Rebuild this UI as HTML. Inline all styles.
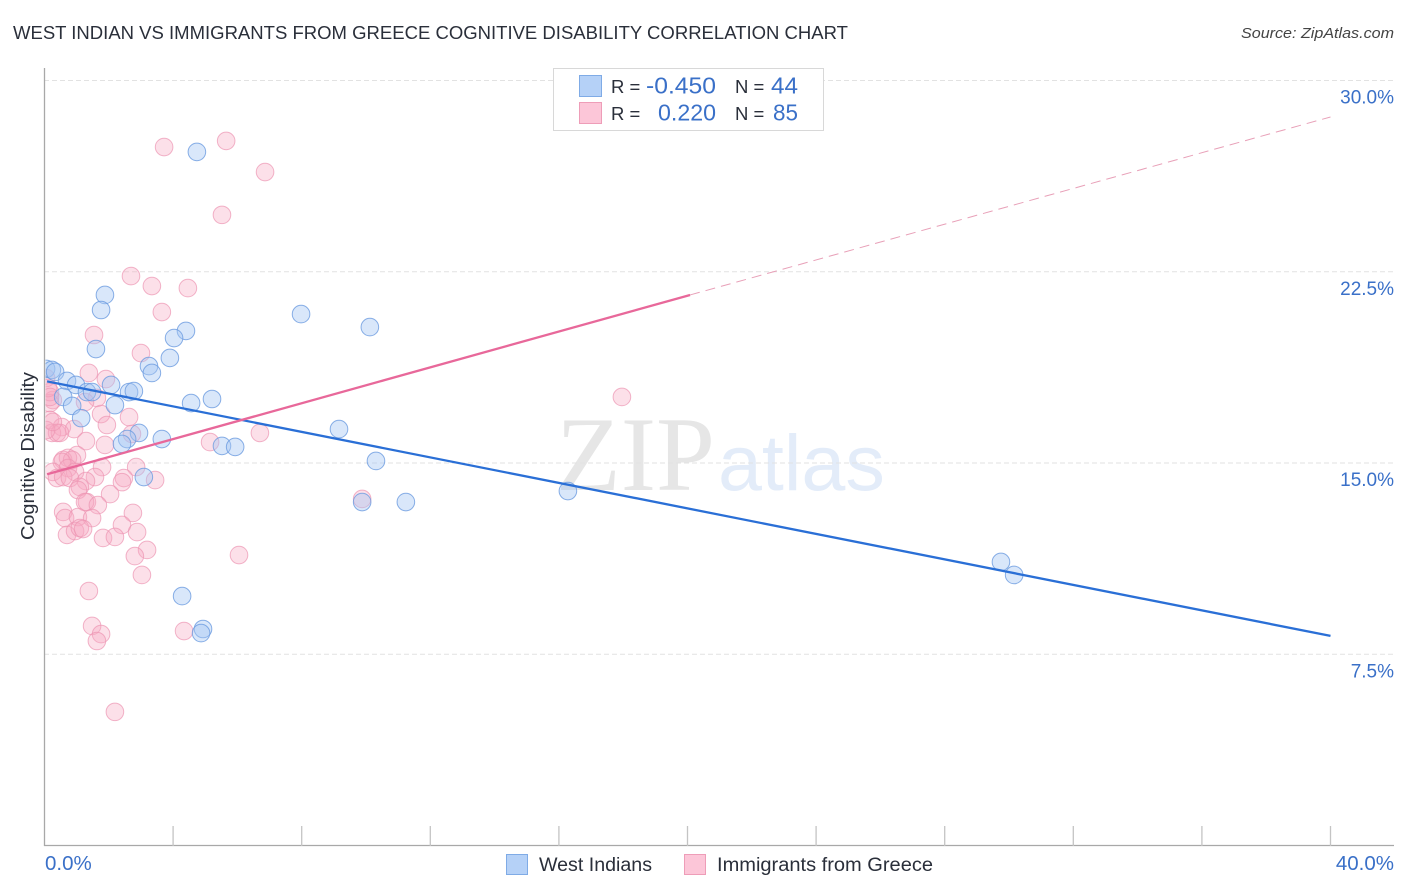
<!DOCTYPE html>
<html lang="en">
<head>
<meta charset="utf-8">
<title>West Indian vs Immigrants from Greece Cognitive Disability Correlation Chart</title>
<style>
html,body{margin:0;padding:0;background:#fff;width:1406px;height:892px;overflow:hidden}
svg{display:block;font-family:"Liberation Sans",sans-serif}
</style>
</head>
<body>
<svg id="chart" width="1406" height="892" viewBox="0 0 1406 892" xmlns="http://www.w3.org/2000/svg">
  <defs>
    <clipPath id="plot-clip"><rect x="45.5" y="60" width="1350" height="786"/></clipPath>
  </defs>
  <text x="13" y="39" font-size="18.5" fill="#2a2f3a" textLength="835" lengthAdjust="spacingAndGlyphs">WEST INDIAN VS IMMIGRANTS FROM GREECE COGNITIVE DISABILITY CORRELATION CHART</text>
  <text x="1394" y="38" font-size="15" font-style="italic" fill="#444" text-anchor="end" textLength="153" lengthAdjust="spacingAndGlyphs">Source: ZipAtlas.com</text>

  <g id="watermark">
    <text x="556" y="490" font-family="'Liberation Serif',serif" font-size="106" fill="#e6e6e6">ZIP</text>
    <text x="718" y="490" font-size="79" fill="#e3ecf9">atlas</text>
  </g>

  <g id="grid"></g>
  <g id="axes"></g>
  <g id="pts" clip-path="url(#plot-clip)"></g>
  <g id="trends"></g>

  <text transform="translate(34,456) rotate(-90)" font-size="18.5" fill="#2a2f3a" text-anchor="middle" textLength="168" lengthAdjust="spacingAndGlyphs">Cognitive Disability</text>

  <g>
    <rect x="553.5" y="68.5" width="270" height="62" fill="#fff" stroke="#d8d8d8" stroke-width="1"/>
    <rect x="579.5" y="75.5" width="22" height="21" fill="#b5d1f7" stroke="#7fabe6" stroke-width="1"/>
    <rect x="579.5" y="102.5" width="22" height="21" fill="#fcc6d8" stroke="#ee9db8" stroke-width="1"/>
    <text x="611" y="93" font-size="18.5" fill="#2a2f3a">R =</text>
    <text x="646" y="93.5" font-size="23" fill="#3a70c8" textLength="70" lengthAdjust="spacingAndGlyphs">-0.450</text>
    <text x="735" y="93" font-size="18.5" fill="#2a2f3a">N =</text>
    <text x="771" y="93.5" font-size="23" fill="#3a70c8" textLength="27" lengthAdjust="spacingAndGlyphs">44</text>
    <text x="611" y="120" font-size="18.5" fill="#2a2f3a">R =</text>
    <text x="658" y="120.5" font-size="23" fill="#3a70c8" textLength="58" lengthAdjust="spacingAndGlyphs">0.220</text>
    <text x="735" y="120" font-size="18.5" fill="#2a2f3a">N =</text>
    <text x="773" y="120.5" font-size="23" fill="#3a70c8" textLength="25" lengthAdjust="spacingAndGlyphs">85</text>
  </g>

  <g>
    <rect x="506.5" y="854.5" width="21" height="20" fill="#b5d1f7" stroke="#7fabe6" stroke-width="1"/>
    <text x="539" y="871" font-size="19" fill="#2a2f3a" textLength="113" lengthAdjust="spacingAndGlyphs">West Indians</text>
    <rect x="684.5" y="854.5" width="21" height="20" fill="#fcc6d8" stroke="#ee9db8" stroke-width="1"/>
    <text x="717" y="871" font-size="19" fill="#2a2f3a" textLength="216" lengthAdjust="spacingAndGlyphs">Immigrants from Greece</text>
  </g>
</svg>
<script>
var xTicks = [0, 4, 8, 12, 16, 20, 24, 28, 32, 36, 40];
var xTickLabels = ["0.0%", "40.0%"];
var yTicks = [7.5, 15, 22.5, 30];
var yTickLabels = ["7.5%", "15.0%", "22.5%", "30.0%"];

var westIndiansX = [4.74,1.88,1.76,7.98,10.12,4.40,4.03,1.60,3.90,3.25,3.34,0.05,0.23,0.33,0.70,0.98,1.32,1.48,2.07,2.63,2.78,0.58,0.86,2.19,1.14,4.56,5.21,5.52,5.93,3.65,2.94,2.57,2.41,3.09,9.16,10.31,9.88,11.24,16.28,29.75,30.16,4.28,4.93,4.87];
var westIndiansY = [27.20,21.59,21.00,20.84,20.33,20.18,19.90,19.47,19.12,18.80,18.53,18.69,18.65,18.57,18.22,18.06,17.78,17.78,18.06,17.78,17.82,17.59,17.24,17.27,16.76,17.35,17.51,15.67,15.63,15.94,16.18,15.94,15.75,14.45,16.33,15.08,13.47,13.47,13.90,11.12,10.61,9.78,8.49,8.33];

var greeceX = [3.72,5.65,6.86,5.52,2.69,3.34,4.46,3.65,1.54,3.00,17.96,1.38,1.91,0.26,0.17,1.63,1.26,1.76,1.94,2.63,0.17,0.54,0.92,0.23,0.39,0.48,1.29,1.88,2.72,5.15,0.17,1.01,0.58,0.73,0.86,0.54,0.26,0.73,0.95,0.39,0.58,0.79,1.79,1.57,2.85,2.47,2.41,3.44,1.29,1.10,1.04,2.04,1.32,1.26,1.66,0.58,0.64,1.04,1.48,2.75,2.41,0.70,0.95,1.10,1.20,1.82,2.19,2.88,3.19,2.81,3.03,6.05,1.38,1.48,1.76,1.63,4.34,2.19,9.88,6.70,0.05,0.11,0.17,0.05,0.26];
var greeceY = [27.39,27.63,26.41,24.73,22.33,21.94,21.86,20.92,20.02,19.31,17.59,18.53,18.29,17.47,17.35,17.55,17.39,16.92,16.49,16.80,16.69,16.41,16.33,16.18,16.18,16.18,15.86,15.71,16.14,15.82,17.78,15.31,15.12,15.20,15.12,15.04,14.65,14.80,14.65,14.41,14.45,14.41,14.84,14.45,14.84,14.41,14.25,14.33,14.29,14.06,13.94,13.78,13.47,13.47,13.35,13.08,12.84,12.88,12.84,13.04,12.57,12.18,12.33,12.45,12.41,12.06,12.10,12.29,11.59,11.35,10.61,11.39,9.98,8.61,8.29,8.02,8.41,5.24,13.59,16.18,18.33,17.94,17.59,16.29,16.61];

var westIndiansTrendX = [0.08, 40];
var westIndiansTrendY = [18.2, 8.22];
var greeceTrendSolidX = [0.08, 20.08];
var greeceTrendSolidY = [14.56, 21.59];
var greeceTrendDashedX = [20.08, 40];
var greeceTrendDashedY = [21.59, 28.57];

var NS = "http://www.w3.org/2000/svg";
function sx(v) { return 44.5 + v * 32.15; }
function sy(v) { return 463 - (v - 15) * 25.5; }
function mk(tag, attrs, parent) {
  var el = document.createElementNS(NS, tag);
  for (var k in attrs) { el.setAttribute(k, attrs[k]); }
  parent.appendChild(el);
  return el;
}

var grid = document.getElementById("grid");
var axes = document.getElementById("axes");
var pts = document.getElementById("pts");
var trends = document.getElementById("trends");

yTicks.forEach(function (t, i) {
  var g = mk("line", { x1: 44, x2: 1394, y1: sy(t), y2: sy(t), stroke: "#e2e2e2", "stroke-width": 1, "stroke-dasharray": "5 3" }, grid);
  
  
  var lbl = mk("text", { x: 1394, y: sy(t) + 23, "font-size": 19, fill: "#3a70c8", "text-anchor": "end" }, axes);
  lbl.textContent = yTickLabels[i];
  
  
});

var yAxis = mk("line", { x1: 44.5, x2: 44.5, y1: 68, y2: 846, stroke: "#a8a8a8", "stroke-width": 1.3 }, axes);


var xAxis = mk("line", { x1: 44, x2: 1394, y1: 845.5, y2: 845.5, stroke: "#a8a8a8", "stroke-width": 1.3 }, axes);



xTicks.slice(1).forEach(function (t) {
  var tick = mk("line", { x1: sx(t), x2: sx(t), y1: 826, y2: 846, stroke: "#c4c4c4", "stroke-width": 1.3 }, axes);
  
  
});

var xl0 = mk("text", { x: 45, y: 870, "font-size": 20.5, fill: "#3a70c8" }, axes);
xl0.textContent = xTickLabels[0];


var xl1 = mk("text", { x: 1394, y: 870, "font-size": 20.5, fill: "#3a70c8", "text-anchor": "end" }, axes);
xl1.textContent = xTickLabels[1];



greeceX.forEach(function (x, i) {
  var c = mk("circle", { cx: sx(x), cy: sy(greeceY[i]), r: 8.8, fill: "#f8a8c2", "fill-opacity": 0.36, stroke: "#ec94b2", "stroke-opacity": 0.7, "stroke-width": 1 }, pts);
  
  
});
westIndiansX.forEach(function (x, i) {
  var c = mk("circle", { cx: sx(x), cy: sy(westIndiansY[i]), r: 8.8, fill: "#a4c6f2", "fill-opacity": 0.42, stroke: "#6c9be0", "stroke-opacity": 0.8, "stroke-width": 1 }, pts);
  
  
});

var tb = mk("line", { x1: sx(westIndiansTrendX[0]), y1: sy(westIndiansTrendY[0]), x2: sx(westIndiansTrendX[1]), y2: sy(westIndiansTrendY[1]), stroke: "#2a6fd6", "stroke-width": 2.3 }, trends);


var tp = mk("line", { x1: sx(greeceTrendSolidX[0]), y1: sy(greeceTrendSolidY[0]), x2: sx(greeceTrendSolidX[1]), y2: sy(greeceTrendSolidY[1]), stroke: "#e8689a", "stroke-width": 2.3 }, trends);


var td = mk("line", { x1: sx(greeceTrendDashedX[0]), y1: sy(greeceTrendDashedY[0]), x2: sx(greeceTrendDashedX[1]), y2: sy(greeceTrendDashedY[1]), stroke: "#e8a0b8", "stroke-width": 1, "stroke-dasharray": "10 6" }, trends);


</script>
</body>
</html>
